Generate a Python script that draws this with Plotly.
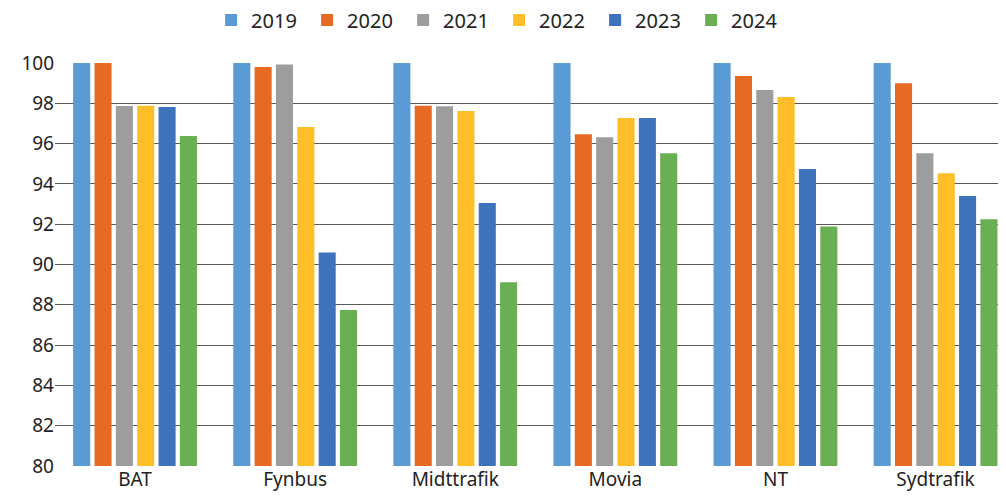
import plotly.graph_objects as go

categories = ["BAT", "Fynbus", "Midttrafik", "Movia", "NT", "Sydtrafik"]
years = ["2019", "2020", "2021", "2022", "2023", "2024"]
v2019 = [100, 100, 100, 100, 100, 100]
v2020 = [100, 99.8, 97.88, 96.46, 99.35, 98.99]
v2021 = [97.87, 99.93, 97.85, 96.31, 98.66, 95.52]
v2022 = [97.88, 96.82, 97.62, 97.27, 98.31, 94.53]
v2023 = [97.82, 90.6, 93.05, 97.27, 94.74, 93.4]
v2024 = [96.38, 87.74, 89.12, 95.52, 91.88, 92.24]
series = [v2019, v2020, v2021, v2022, v2023, v2024]
colors = ["#5B9BD5", "#E66A24", "#9B9D9E", "#FEBE28", "#3E73BC", "#6BAF55"]

fig = go.Figure()
for y, vals, c in zip(years, series, colors):
    fig.add_trace(go.Bar(name=y, x=categories, y=vals, marker_color=c,
                         marker_line=dict(width=0)))

font = "Noto Sans"
fig.update_layout(
    width=998, height=489,
    barmode="group", bargap=0.2, bargroupgap=0.2,
    plot_bgcolor="white", paper_bgcolor="white",
    margin=dict(l=47, r=0, t=55, b=31, autoexpand=False),
    font=dict(family=font, size=19, color="#222222"),
    legend=dict(orientation="h", x=0.467, xanchor="center", y=1.107, yanchor="middle",
                yref="paper", font=dict(size=20), itemwidth=30,
                entrywidth=51, entrywidthmode="pixels",
                traceorder="normal"),
    xaxis=dict(range=[-0.5, 5.44], showgrid=False, ticks="", showline=False,
               automargin=False, tickfont=dict(size=19)),
    yaxis=dict(range=[80, 100], dtick=2, showgrid=True, gridcolor="#595959",
               gridwidth=1, zeroline=False, showline=False, ticks="",
               automargin=False, tickfont=dict(size=19)),
    showlegend=True,
)
fig.write_html("out.html")
